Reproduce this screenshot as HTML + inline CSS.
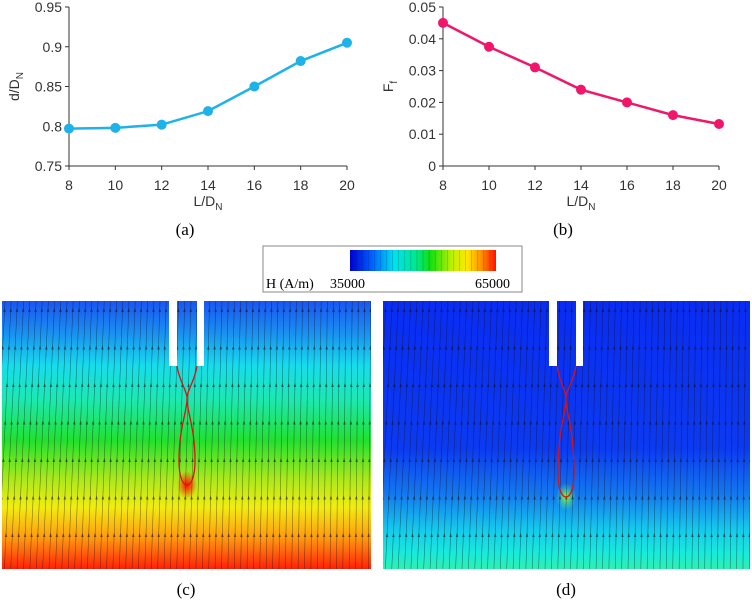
<!DOCTYPE html>
<html><head><meta charset="utf-8">
<style>
body{margin:0;background:#fff;width:752px;height:601px;overflow:hidden;font-family:"Liberation Sans",sans-serif}
svg{position:absolute;left:0;top:0}
</style></head>
<body>
<svg id="s" width="752" height="601" viewBox="0 0 752 601">
<defs>
<clipPath id="clipC"><rect x="2" y="301" width="369" height="268"/></clipPath>
<clipPath id="clipD"><rect x="383" y="301" width="367" height="268"/></clipPath>
<linearGradient id="gc" x1="0" y1="0" x2="0" y2="1">
<stop offset="0" stop-color="#1a55f2"/><stop offset="0.12" stop-color="#1a90f0"/><stop offset="0.24" stop-color="#17dcec"/>
<stop offset="0.37" stop-color="#1de8b0"/><stop offset="0.52" stop-color="#22e030"/><stop offset="0.66" stop-color="#a8e81c"/>
<stop offset="0.77" stop-color="#f2ec12"/><stop offset="0.89" stop-color="#ff9410"/><stop offset="1" stop-color="#ff2008"/>
</linearGradient>
<linearGradient id="gd" x1="0" y1="0" x2="0" y2="1">
<stop offset="0" stop-color="#0a2cf2"/><stop offset="0.55" stop-color="#0c3af0"/><stop offset="0.72" stop-color="#1478ee"/>
<stop offset="0.85" stop-color="#16c8ec"/><stop offset="0.94" stop-color="#18eadc"/><stop offset="1" stop-color="#30f0b0"/>
</linearGradient>
<linearGradient id="gbar" x1="0" y1="0" x2="1" y2="0">
<stop offset="0" stop-color="#0000d0"/><stop offset="0.15" stop-color="#0060ff"/><stop offset="0.3" stop-color="#00e0f0"/>
<stop offset="0.45" stop-color="#00e890"/><stop offset="0.55" stop-color="#10e010"/><stop offset="0.7" stop-color="#c0f000"/>
<stop offset="0.8" stop-color="#ffe800"/><stop offset="0.9" stop-color="#ff9000"/><stop offset="1" stop-color="#ff1000"/>
</linearGradient>
<radialGradient id="hotc"><stop offset="0" stop-color="#ff1000"/><stop offset="1" stop-color="#ff1000" stop-opacity="0"/></radialGradient>
<radialGradient id="hotd"><stop offset="0" stop-color="#a0f020"/><stop offset="1" stop-color="#40f0a0" stop-opacity="0"/></radialGradient>
</defs>
<g id="chartA"></g>
<g id="chartB"></g>
<text x="185" y="235" font-family="Liberation Serif" font-size="17" text-anchor="middle">(a)</text>
<text x="563" y="235" font-family="Liberation Serif" font-size="17" text-anchor="middle">(b)</text>

<g>
<rect x="263" y="246" width="259" height="46" fill="#fff" stroke="#888" stroke-width="1"/>
<rect x="350" y="250" width="146" height="21" fill="url(#gbar)"/>
<g id="barlines"></g>
<text x="266" y="288" font-family="Liberation Serif" font-size="14">H (A/m)</text>
<text x="330" y="288" font-family="Liberation Serif" font-size="14">35000</text>
<text x="475" y="288" font-family="Liberation Serif" font-size="14">65000</text>
</g>

<g id="panelC" clip-path="url(#clipC)"></g>
<g id="panelD" clip-path="url(#clipD)"></g>
<text x="186" y="595" font-family="Liberation Serif" font-size="17" text-anchor="middle">(c)</text>
<text x="566" y="595" font-family="Liberation Serif" font-size="17" text-anchor="middle">(d)</text>
</svg>
<script>
const xCats=[8,10,12,14,16,18,20];
const dVals=[0.797,0.798,0.802,0.819,0.850,0.882,0.905];
const fVals=[0.045,0.0375,0.031,0.024,0.020,0.016,0.0132];
const aTicks=["0.75","0.8","0.85","0.9","0.95"];
const bTicks=["0","0.01","0.02","0.03","0.04","0.05"];
const NS="http://www.w3.org/2000/svg";
function mk(p,t,a){const e=document.createElementNS(NS,t);for(const k in a)e.setAttribute(k,a[k]);p.appendChild(e);return e;}
function chart(g,x0,x1,y0,y1,ymin,ymax,ticks,vals,col,ytitle,sub){
  const X=v=>x0+(v-8)/(20-8)*(x1-x0), Y=v=>y0-(v-ymin)/(ymax-ymin)*(y0-y1);
  const ax=mk(g,'path',{d:`M${x0} ${y1}V${y0}H${x1}`,stroke:'#333',fill:'none','stroke-width':1});
  
  ticks.forEach(t=>{const y=Y(+t);mk(g,'line',{x1:x0-4,x2:x0,y1:y,y2:y,stroke:'#333'});
    const tx=mk(g,'text',{x:x0-7,y:y+5,'font-size':14,'text-anchor':'end',fill:'#333'});tx.textContent=t;
    });
  xCats.forEach(c=>{const x=X(c);mk(g,'line',{x1:x,x2:x,y1:y0,y2:y0+4,stroke:'#333'});
    const tx=mk(g,'text',{x:x,y:y0+24,'font-size':14,'text-anchor':'middle',fill:'#333'});tx.textContent=c;
    });
  const xt=mk(g,'text',{x:(x0+x1)/2,y:y0+40,'font-size':14,'text-anchor':'middle',fill:'#333'});
  xt.innerHTML='L/D<tspan font-size="10" dy="4">N</tspan>';
  
  const yt=mk(g,'text',{x:0,y:0,'font-size':14,'text-anchor':'middle',fill:'#333',transform:`translate(${x0-50},${(y0+y1)/2}) rotate(-90)`});
  yt.innerHTML=ytitle+'<tspan font-size="10" dy="4">'+sub+'</tspan>';
  
  const ln=mk(g,'polyline',{points:vals.map((v,i)=>X(xCats[i])+','+Y(v)).join(' '),fill:'none',stroke:col,'stroke-width':2.5});
  
  vals.forEach((v,i)=>{const c=mk(g,'circle',{cx:X(xCats[i]),cy:Y(v),r:5,fill:col});
    });
}
chart(document.getElementById('chartA'),69,347,166,7,0.75,0.95,aTicks,dVals,'#1db2ea','d/D','N');
chart(document.getElementById('chartB'),443,719,166,7,0,0.05,bTicks,fVals,'#f0166a','F','f');
const bl=document.getElementById('barlines');
for(let i=1;i<24;i++){mk(bl,'line',{x1:350+i*146/24,x2:350+i*146/24,y1:250,y2:271,stroke:'#000','stroke-opacity':0.25,'stroke-width':0.6});}

function panel(g,x0,x1,grad,nl,nr,ncx,tipY,hot){
  const y0=301,y1=569;
  mk(g,'rect',{x:x0,y:y0,width:x1-x0,height:y1-y0,fill:`url(#${grad})`});
  mk(g,'ellipse',{cx:ncx,cy:tipY,rx:10,ry:14,fill:`url(#${hot})`});
  const cx=(x0+x1)/2;
  for(let x=x0+3;x<x1+20;x+=6.2){
    const dx=-8+(x-cx)*0.03;
    mk(g,'line',{x1:x,y1:y0,x2:x+dx,y2:y1,stroke:'#111','stroke-opacity':0.5,'stroke-width':0.6});
    for(let ay=y0+8;ay<y1;ay+=37.5){const t=(ay-y0)/(y1-y0);const ax=x+dx*t;
      mk(g,'path',{d:`M${ax-1.3} ${ay+3}L${ax} ${ay-1}L${ax+1.3} ${ay+3}Z`,fill:'#111','fill-opacity':0.55});}
  }
  mk(g,'rect',{x:nl-8,y:y0-1,width:8,height:366-y0+1,fill:'#fff'});
  mk(g,'rect',{x:nr,y:y0-1,width:7,height:366-y0+1,fill:'#fff'});
  const my=397;
  const d=`M${nl} 366 C${nl+2} 380 ${ncx-1} ${my-8} ${ncx} ${my} C${ncx+1} ${my+12} ${ncx-8} ${my+30} ${ncx-8} ${tipY-25} C${ncx-8} ${tipY-5} ${ncx-3} ${tipY} ${ncx} ${tipY} C${ncx+3} ${tipY} ${ncx+8} ${tipY-5} ${ncx+8} ${tipY-25} C${ncx+8} ${my+30} ${ncx-1} ${my+12} ${ncx} ${my} C${ncx+1} ${my-8} ${nr-2} 380 ${nr} 366`;
  const dr=mk(g,'path',{d:d,fill:'none',stroke:'#e01010','stroke-width':1.3});
  
}
panel(document.getElementById('panelC'),2,371,'gc',177,197,187,485,'hotc');
panel(document.getElementById('panelD'),383,750,'gd',557,576,566,497,'hotd');
</script>
</body></html>
